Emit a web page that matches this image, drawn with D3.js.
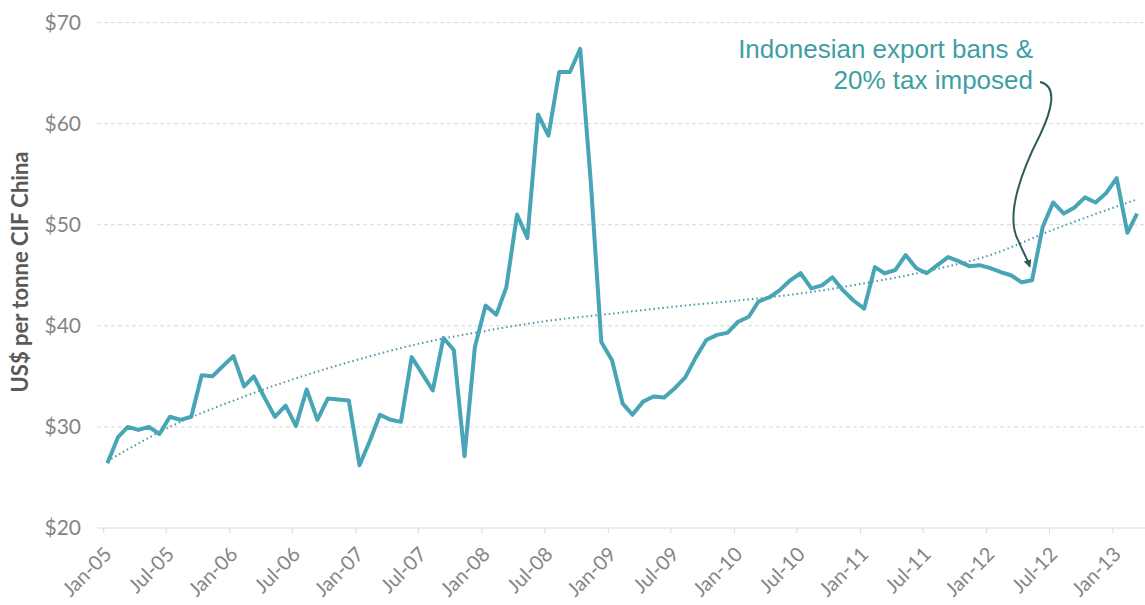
<!DOCTYPE html>
<html>
<head>
    <meta charset="UTF-8">
    <title>Price chart</title>
    <script src="https://d3js.org/d3.v7.min.js"></script>
    <style>
        body { margin: 0; background: #fff; }
        .tick-label { font-family: Lato, "Open Sans", sans-serif; fill: #858585; }
    </style>
</head>
<body>
    <div id="chart"></div>

    <script>
        // monthly prices, Jan-05 .. Mar-13 (US$ per tonne CIF China)
        var startYear = 2005;
        var prices = [
            26.4, 29.0, 30.0, 29.7, 30.0, 29.3, 31.0, 30.7, 31.0, 35.1, 35.0, 36.0,
            37.0, 34.0, 35.0, 32.9, 31.0, 32.1, 30.1, 33.7, 30.7, 32.8, 32.7, 32.6,
            26.2, 28.7, 31.2, 30.7, 30.5, 36.9, 35.3, 33.6, 38.8, 37.6, 27.1, 37.9,
            42.0, 41.1, 43.8, 51.0, 48.7, 60.9, 58.8, 65.1, 65.1, 67.4, 54.0, 38.4,
            36.6, 32.3, 31.2, 32.5, 33.0, 32.9, 33.8, 34.9, 36.9, 38.6, 39.1, 39.3,
            40.4, 40.9, 42.4, 42.8, 43.5, 44.5, 45.2, 43.7, 44.0, 44.8, 43.5, 42.5,
            41.7, 45.8, 45.2, 45.5, 47.0, 45.7, 45.2, 46.0, 46.8, 46.4, 45.9, 46.0,
            45.7, 45.3, 45.0, 44.3, 44.5, 49.8, 52.2, 51.1, 51.7, 52.7, 52.2, 53.1,
            54.6, 49.2, 51.1
        ];

        // dotted trend line (month index, value)
        var trendMonths = [0, 6, 12, 18, 24, 30, 36, 42, 48, 54, 60, 66, 72, 78, 84, 90, 96, 98];
        var trendValues = [26.6, 30.0, 32.6, 34.8, 36.7, 38.3, 39.5, 40.5, 41.2, 41.9, 42.5, 43.2, 44.2, 45.4, 47.0, 49.5, 51.8, 52.5];

        var tickLabels = ["Jan-05", "Jul-05", "Jan-06", "Jul-06", "Jan-07", "Jul-07", "Jan-08", "Jul-08",
            "Jan-09", "Jul-09", "Jan-10", "Jul-10", "Jan-11", "Jul-11", "Jan-12", "Jul-12", "Jan-13"];
        var yTicks = [20, 30, 40, 50, 60, 70];

        var width = 1145, height = 605;

        var svg = d3.select("#chart").append("svg")
            .attr("width", width)
            .attr("height", height);

        // points sit a little after the start of their month
        function monthDate(i, off) {
            return d3.timeDay.offset(d3.timeMonth.offset(new Date(startYear, 0, 1), i), off);
        }

        var x = d3.scaleTime()
            .domain([new Date(2004, 11, 14), new Date(2013, 3, 5)])
            .range([97, 1145]);
        var y = d3.scaleLinear()
            .domain([20, 70])
            .range([528, 22.5]);

        // gridlines
        svg.append("g").selectAll("line")
            .data(yTicks.filter(function (d) { return d > 20; }))
            .enter().append("line")
            .attr("x1", 97).attr("x2", width)
            .attr("y1", function (d) { return y(d); })
            .attr("y2", function (d) { return y(d); })
            .attr("stroke", "#d9d9d9")
            .attr("stroke-width", 1)
            .attr("stroke-dasharray", "4,3");

        // y axis
        var yAxis = svg.append("g")
            .attr("transform", "translate(81,0)")
            .call(d3.axisLeft(y).tickValues(yTicks).tickSize(0).tickPadding(0)
                .tickFormat(function (d) { return "$" + d; }));
        yAxis.select(".domain").remove();
        yAxis.selectAll("text")
            .attr("class", "tick-label")
            .style("font-size", "21px");

        svg.append("text")
            .attr("transform", "translate(28,272) rotate(-90)")
            .attr("text-anchor", "middle")
            .style("font-family", "Lato, 'Open Sans', sans-serif")
            .style("font-weight", "bold")
            .style("font-size", "22px")
            .style("fill", "#595959")
            .text("US$ per tonne CIF China");

        // x axis
        var tickDates = tickLabels.map(function (d, i) { return monthDate(i * 6, 0); });
        var xAxis = svg.append("g")
            .attr("transform", "translate(0," + y(20) + ")")
            .call(d3.axisBottom(x).tickValues(tickDates).tickSize(5)
                .tickFormat(function (d, i) { return tickLabels[i]; }));
        xAxis.select(".domain")
            .attr("d", "M97,0H" + width)
            .attr("stroke", "#d9d9d9");
        xAxis.selectAll(".tick line").attr("stroke", "#d9d9d9");
        xAxis.selectAll("text")
            .attr("class", "tick-label")
            .style("font-size", "20px")
            .attr("text-anchor", "end")
            .attr("y", 0)
            .attr("dx", "-13px")
            .attr("dy", "26px")
            .attr("transform", "rotate(-45)");

        // trend line
        var trend = trendMonths.map(function (m, i) { return { d: monthDate(m, 12), v: trendValues[i] }; });
        svg.append("path")
            .datum(trend)
            .attr("fill", "none")
            .attr("stroke", "#4a97ab")
            .attr("stroke-width", 2)
            .attr("stroke-dasharray", "1.5,3")
            .attr("d", d3.line()
                .curve(d3.curveMonotoneX)
                .x(function (d) { return x(d.d); })
                .y(function (d) { return y(d.v); }));

        // price line
        svg.append("path")
            .datum(prices)
            .attr("fill", "none")
            .attr("stroke", "#47a5b5")
            .attr("stroke-width", 4)
            .attr("stroke-linejoin", "round")
            .attr("d", d3.line()
                .x(function (d, i) { return x(monthDate(i, 12)); })
                .y(function (d) { return y(d); }));

        // annotation
        var note = svg.append("text")
            .attr("text-anchor", "end")
            .style("font-family", "'Liberation Sans', Arial, sans-serif")
            .style("font-size", "26px")
            .style("fill", "#3f9ea3");
        note.append("tspan").attr("x", 1033).attr("y", 58).text("Indonesian export bans &");
        note.append("tspan").attr("x", 1033).attr("y", 89).text("20% tax imposed");

        svg.append("defs").append("marker")
            .attr("id", "arrow")
            .attr("viewBox", "0 0 10 10")
            .attr("refX", 8).attr("refY", 5)
            .attr("markerWidth", 4).attr("markerHeight", 4)
            .attr("orient", "auto")
            .append("path")
            .attr("d", "M0,0L10,5L0,10z")
            .attr("fill", "#2f5a5c");

        var ax = monthDate(87, 12), ay = 44.3;
        svg.append("path")
            .attr("fill", "none")
            .attr("stroke", "#2f5a5c")
            .attr("stroke-width", 2)
            .attr("marker-end", "url(#arrow)")
            .attr("d", "M1040,82 C1058,86 1052,110 1040,135 C1022,170 1005,215 1018,240 C1022,250 1026,256 " +
                (x(ax) + 8) + "," + (y(ay) - 16));
    </script>
</body>
</html>
